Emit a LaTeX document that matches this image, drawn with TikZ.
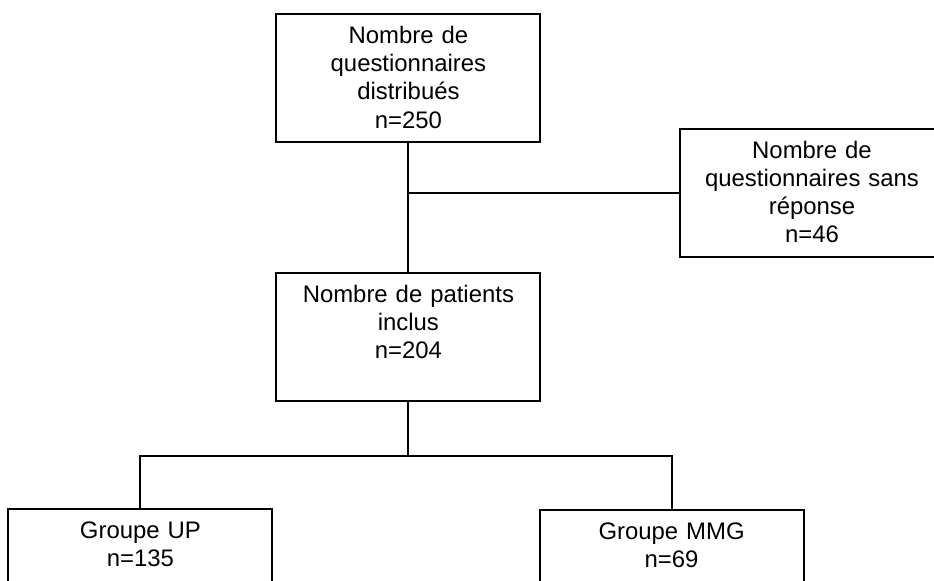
\documentclass[tikz,border=0pt]{standalone}
\usepackage{fontspec}
\setmainfont{Liberation Sans}
\usepackage{tikz}
\usetikzlibrary{positioning, calc}

\begin{document}
\begin{tikzpicture}[
  %%── Styles ───────────────────────────────────────────────────────────────
  flowbox/.style={
    draw=black, line width=1.3pt, fill=white,
    minimum width=6.6cm, text width=6.3cm, align=center,
    inner xsep=0.15cm, inner ysep=0pt,
    text height=0.74cm, text depth=2.46cm,
    font=\fontsize{17}{20}\selectfont, anchor=north
  },
  link/.style={draw=black, line width=1.3pt},
]

%%── Page frame (934 x 581 px, 1px = 0.025cm) ────────────────────────────
\clip (0,0) rectangle (23.35,-14.525);

%%── Boxes (placed by their top edge) ────────────────────────────────────
\node[flowbox] (distrib) at (10.21, -0.33)
    {Nombre de\\questionnaires\\distribués\\n=250};
\node[flowbox] (noresp)  at (20.3, -3.2)
    {Nombre de\\questionnaires sans\\réponse\\n=46};
\node[flowbox] (inclus)  at (10.21, -6.8)
    {Nombre de patients\\inclus\\n=204};
\node[flowbox] (grpup)   at (3.51, -12.7)
    {Groupe UP\\n=135};
\node[flowbox] (grpmmg)  at (16.79, -12.72)
    {Groupe MMG\\n=69};

%%── Connectors ──────────────────────────────────────────────────────────
\coordinate (split) at ($(inclus.south)+(0,-1.35)$);

\draw[link] (distrib.south) -- (distrib.south |- inclus.north);
\draw[link] (noresp.west) -- (noresp.west -| distrib.south);
\draw[link] (inclus.south) -- (split);
\draw[link] (grpup.north) |- (split) -| (grpmmg.north);

\end{tikzpicture}
\end{document}
